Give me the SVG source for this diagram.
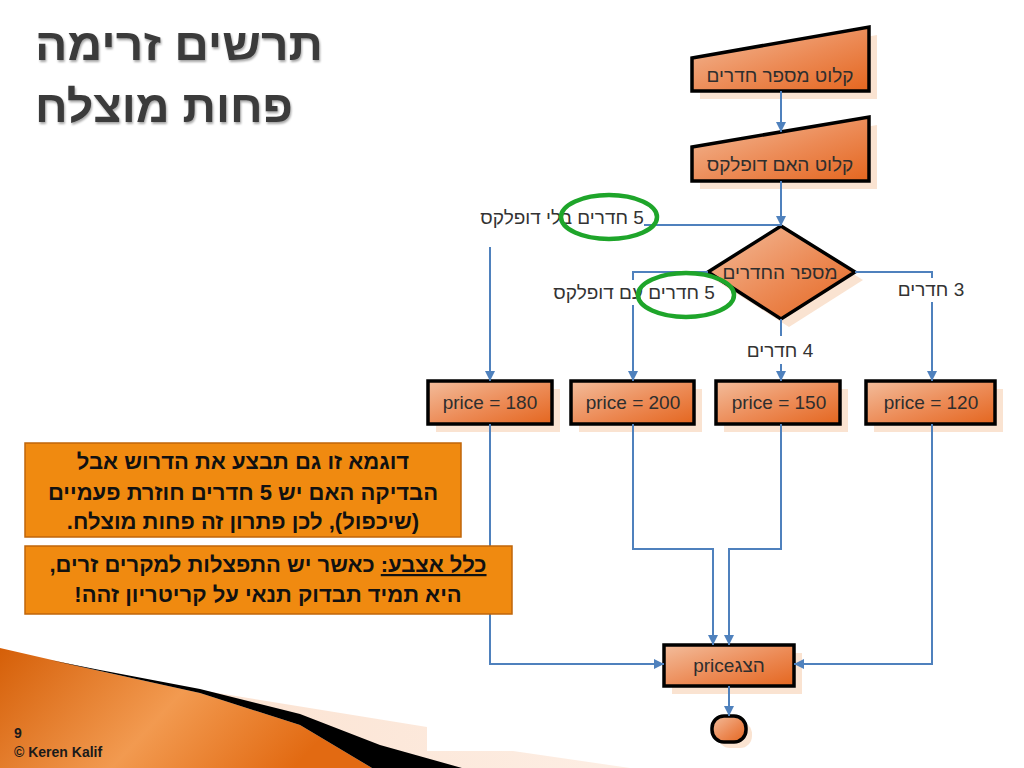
<svg xmlns="http://www.w3.org/2000/svg" width="1024" height="768" viewBox="0 0 1024 768">
<style>
.title{font-family:"Liberation Sans",Arial,sans-serif;font-weight:bold;font-size:44px;fill:#3a3a3a;}
.node{stroke:#000;stroke-width:3.5;stroke-linejoin:miter;fill:url(#ng);}
.shadow{fill:#f9dcc6;opacity:0.8;}
.nt{font-family:"Liberation Sans",Arial,sans-serif;font-size:19px;fill:#2e2e2e;text-anchor:middle;}
.conn{fill:none;stroke:#4f81bd;stroke-width:2;}
.lbl{font-family:"Liberation Sans",Arial,sans-serif;font-size:19px;fill:#333;text-anchor:middle;}
.bg{fill:#fff;}
.ring{fill:none;stroke:#1ea52a;stroke-width:4.5;}
.note{fill:#f08a10;stroke:#c0650a;stroke-width:1.5;}
.ntx{font-family:"Liberation Sans",Arial,sans-serif;font-weight:bold;font-size:22px;fill:#111;text-anchor:middle;}
.foot{font-family:"Liberation Sans",Arial,sans-serif;font-weight:bold;font-size:14px;fill:#1a1a1a;}
</style>
<defs>
<linearGradient id="ng" x1="0" y1="0" x2="1" y2="1">
<stop offset="0" stop-color="#f3bd9c"/>
<stop offset="0.55" stop-color="#ec8a55"/>
<stop offset="1" stop-color="#e4661f"/>
</linearGradient>
<linearGradient id="og" x1="0" y1="0" x2="1" y2="0.3">
<stop offset="0" stop-color="#d55f08"/>
<stop offset="0.55" stop-color="#f29a50"/>
<stop offset="1" stop-color="#e26a12"/>
</linearGradient>
<linearGradient id="pg" x1="0" y1="0" x2="1" y2="0">
<stop offset="0" stop-color="#fbe0cd"/>
<stop offset="1" stop-color="#fdeee4"/>
</linearGradient>
<marker id="ah" markerWidth="10" markerHeight="10" refX="10" refY="5" orient="auto" markerUnits="userSpaceOnUse">
<path d="M0,0 L10,5 L0,10 z" fill="#4f81bd"/>
</marker>
<filter id="ts" x="-5%" y="-10%" width="110%" height="130%">
<feDropShadow dx="1" dy="2" stdDeviation="1.2" flood-color="#000" flood-opacity="0.35"/>
</filter>
</defs>
<rect width="1024" height="768" fill="#fff"/>

<g id="title" filter="url(#ts)">
<text class="title" x="35" y="60" text-anchor="end" direction="rtl" textLength="288" lengthAdjust="spacingAndGlyphs">תרשים זרימה</text>
<text class="title" x="35" y="122" text-anchor="end" direction="rtl" textLength="258" lengthAdjust="spacingAndGlyphs">פחות מוצלח</text>
</g>

<g id="decoration">
<polygon points="100,674 427,727 427,751 513,751 630,768 380,768" fill="url(#pg)"/>
<polygon points="0,648 100,671 200,693 300,725 372,768 0,768" fill="url(#og)"/>
<polygon points="50,660 100,670 200,689 300,714 380,745 462,768 372,768 300,725 200,693 100,671" fill="#000"/>
</g>

<g id="n-input-rooms">
<polygon class="shadow" points="700,66 877,35 877,99 700,99"/>
<polygon class="node" points="692,58 869,27 869,91 692,91"/>
<text class="nt" x="780" y="82" direction="rtl">קלוט מספר חדרים</text>
</g>
<g id="n-input-duplex">
<polygon class="shadow" points="700,155 877,125 877,189 700,189"/>
<polygon class="node" points="692,147 869,117 869,181 692,181"/>
<text class="nt" x="780" y="171" direction="rtl">קלוט האם דופלקס</text>
</g>
<g id="n-decision">
<polygon class="shadow" points="789,234 863,280 789,327 715,280"/>
<polygon class="node" points="781,226 855,272 781,319 708,272"/>
<text class="nt" x="780" y="279" direction="rtl">מספר החדרים</text>
</g>
<g id="n-p180">
<rect class="shadow" x="436" y="389" width="124" height="43"/>
<rect class="node" x="428" y="381" width="124" height="43"/>
<text class="nt" x="490" y="409">price = 180</text>
</g>
<g id="n-p200">
<rect class="shadow" x="579" y="389" width="123" height="43"/>
<rect class="node" x="571" y="381" width="123" height="43"/>
<text class="nt" x="633" y="409">price = 200</text>
</g>
<g id="n-p150">
<rect class="shadow" x="724" y="389" width="124" height="43"/>
<rect class="node" x="716" y="381" width="124" height="43"/>
<text class="nt" x="779" y="409">price = 150</text>
</g>
<g id="n-p120">
<rect class="shadow" x="874" y="389" width="129" height="43"/>
<rect class="node" x="866" y="381" width="129" height="43"/>
<text class="nt" x="931" y="409">price = 120</text>
</g>
<g id="n-display">
<rect class="shadow" x="672" y="653" width="130" height="41"/>
<rect class="node" x="664" y="645" width="130" height="41"/>
<text class="nt" x="729" y="672" direction="rtl">הצגprice</text>
</g>
<g id="n-end">
<rect class="shadow" x="718" y="722" width="34" height="26" rx="12"/>
<rect class="node" x="712" y="716" width="34" height="26" rx="12"/>
</g>

<g id="connectors">
<path class="conn" d="M781,91 L781,132" marker-end="url(#ah)"/>
<path class="conn" d="M781,181 L781,226" marker-end="url(#ah)"/>
<path class="conn" d="M781,225 L490,225 L490,381" marker-end="url(#ah)"/>
<path class="conn" d="M708,272 L633,272 L633,381" marker-end="url(#ah)"/>
<path class="conn" d="M781,319 L781,381" marker-end="url(#ah)"/>
<path class="conn" d="M855,272 L932,272 L932,381" marker-end="url(#ah)"/>
<path class="conn" d="M490,424 L490,664 L664,664" marker-end="url(#ah)"/>
<path class="conn" d="M633,424 L633,549 L713,549 L713,645" marker-end="url(#ah)"/>
<path class="conn" d="M781,424 L781,549 L729,549 L729,645" marker-end="url(#ah)"/>
<path class="conn" d="M932,424 L932,664 L794,664" marker-end="url(#ah)"/>
<path class="conn" d="M729,686 L729,716" marker-end="url(#ah)"/>
<rect class="bg" x="470" y="204" width="174" height="43"/>
<rect class="bg" x="548" y="280" width="166" height="25"/>
<rect class="bg" x="895" y="278" width="73" height="24"/>
<rect class="bg" x="745" y="336" width="70" height="28"/>
<text class="lbl" x="562" y="224" direction="rtl">5 חדרים בלי דופלקס</text>
<text class="lbl" x="634" y="299" direction="rtl">5 חדרים עם דופלקס</text>
<text class="lbl" x="931" y="296" direction="rtl">3 חדרים</text>
<text class="lbl" x="780" y="357" direction="rtl">4 חדרים</text>
</g>

<g id="highlights">
<ellipse class="ring" cx="609" cy="217" rx="48" ry="22"/>
<ellipse class="ring" cx="686" cy="295" rx="48" ry="22"/>
</g>

<g id="note1">
<rect class="note" x="25" y="443" width="436" height="94"/>
<text class="ntx" x="243" y="469" direction="rtl">דוגמא זו גם תבצע את הדרוש אבל</text>
<text class="ntx" x="243" y="500" direction="rtl">הבדיקה האם יש 5 חדרים חוזרת פעמיים</text>
<text class="ntx" x="243" y="529" direction="rtl">(שיכפול), לכן פתרון זה פחות מוצלח.</text>
</g>
<g id="note2">
<rect class="note" x="25" y="546" width="487" height="68"/>
<text class="ntx" x="268" y="572" direction="rtl"><tspan text-decoration="underline">כלל אצבע:</tspan> כאשר יש התפצלות למקרים זרים,</text>
<text class="ntx" x="268" y="602" direction="rtl">היא תמיד תבדוק תנאי על קריטריון זהה!</text>
</g>

<g id="footer">
<text class="foot" x="14" y="738">9</text>
<text class="foot" x="14" y="757">© Keren Kalif</text>
</g>
</svg>
